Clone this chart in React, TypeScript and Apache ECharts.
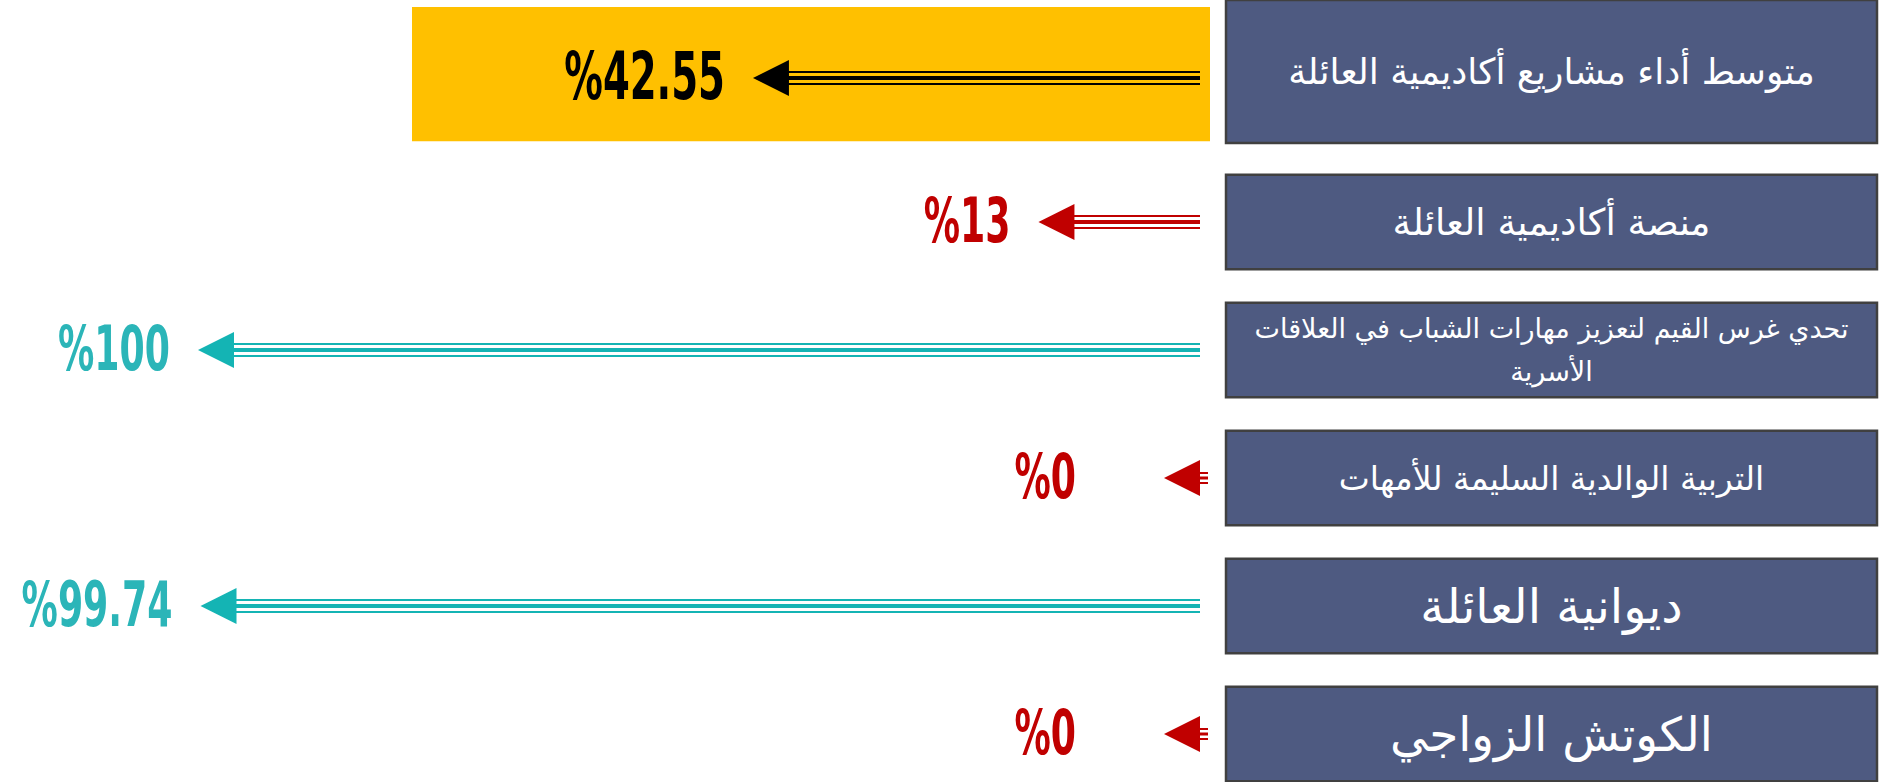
import React, { useEffect, useRef } from 'react';
import * as echarts from 'echarts';

// ---- data ----
const categories = [
  'متوسط أداء مشاريع أكاديمية العائلة',
  'منصة أكاديمية العائلة',
  'تحدي غرس القيم لتعزيز مهارات الشباب في العلاقات\nالأسرية',
  'التربية الوالدية السليمة للأمهات',
  'ديوانية العائلة',
  'الكوتش الزواجي',
];
const values = [42.55, 13, 100, 0, 99.74, 0];
const averageIndex = 0;
const axisMin = 0;
const axisMax = 100;

// ---- style ----
const BOX_FONT_SIZES = [36, 37, 27, 33, 48, 47];
const COLOR_AVG = '#000000';
const COLOR_LOW = '#C00000';
const COLOR_HIGH = '#14B4B4';
const LABEL_HIGH = '#2BB5B8';
const BOX_FILL = '#4E5A81';
const BOX_STROKE = '#404040';
const ARABIC_FONT = '"DejaVu Sans", "Noto Sans", sans-serif';
const PCT_FONT = '"Liberation Sans Narrow", "DejaVu Sans Condensed", "Liberation Sans", sans-serif';

export default function App() {
  const ref = useRef<HTMLDivElement>(null);
  useEffect(() => {
    if (!ref.current) return;
    const chart = echarts.init(ref.current, undefined, { renderer: 'svg' });
    const avg = values[averageIndex];
    const data = values.map((v, i) => [v, i]);

    const renderItem = (params: any, api: any) => {
      const v = api.value(0) as number;
      const idx = api.value(1) as number;
      const tip = api.coord([v, idx]);
      const zero = api.coord([axisMin, idx]);
      const band = Math.abs(api.coord([axisMin, 1])[1] - api.coord([axisMin, 0])[1]);
      const isAvg = idx === averageIndex;
      const rowC = tip[1];
      const cy = rowC + (isAvg ? -16 : 0);
      const headLen = 36;
      const headHalf = 18;
      const tipX = tip[0];
      const baseX = tipX + headLen;
      const endX = zero[0] + headLen;
      const color = isAvg ? COLOR_AVG : v >= avg ? COLOR_HIGH : COLOR_LOW;
      const labelColor = isAvg ? COLOR_AVG : v >= avg ? LABEL_HIGH : COLOR_LOW;
      const children: any[] = [];

      // right-hand box
      const boxLeft = 1226;
      const boxWidth = 651;
      const half = band * 0.37;
      const boxTop = isAvg ? rowC - band * 0.734 : rowC - half;
      const boxBottom = isAvg ? rowC + band * 0.383 : rowC + half;
      if (isAvg) {
        children.push({
          type: 'rect',
          shape: { x: 412, y: rowC - band * 0.68, width: endX + 10 - 412, height: band * 1.05 },
          style: { fill: '#FFC000' },
        });
      }
      children.push({
        type: 'rect',
        shape: { x: boxLeft, y: boxTop, width: boxWidth, height: boxBottom - boxTop },
        style: { fill: BOX_FILL, stroke: BOX_STROKE, lineWidth: 2.5 },
      });
      children.push({
        type: 'text',
        x: boxLeft + boxWidth / 2,
        y: (boxTop + boxBottom) / 2,
        style: {
          text: categories[idx],
          fill: '#FFFFFF',
          fontSize: BOX_FONT_SIZES[idx],
          fontFamily: ARABIC_FONT,
          align: 'center',
          verticalAlign: 'middle',
          lineHeight: 43,
        },
      });

      // shaft (three parallel lines)
      if (endX > baseX) {
        children.push({ type: 'line', shape: { x1: baseX - 1, y1: cy - 6, x2: endX, y2: cy - 6 }, style: { stroke: color, lineWidth: 2 } });
        children.push({ type: 'line', shape: { x1: baseX - 1, y1: cy, x2: endX, y2: cy }, style: { stroke: color, lineWidth: 4 } });
        children.push({ type: 'line', shape: { x1: baseX - 1, y1: cy + 6, x2: endX, y2: cy + 6 }, style: { stroke: color, lineWidth: 2 } });
      } else {
        children.push({ type: 'line', shape: { x1: baseX - 1, y1: cy - 5, x2: baseX + 8, y2: cy - 5 }, style: { stroke: color, lineWidth: 2 } });
        children.push({ type: 'line', shape: { x1: baseX - 1, y1: cy, x2: baseX + 8, y2: cy }, style: { stroke: color, lineWidth: 3 } });
        children.push({ type: 'line', shape: { x1: baseX - 1, y1: cy + 5, x2: baseX + 8, y2: cy + 5 }, style: { stroke: color, lineWidth: 2 } });
      }
      // head
      children.push({
        type: 'polygon',
        shape: { points: [[tipX, cy], [baseX, cy - headHalf], [baseX, cy + headHalf]] },
        style: { fill: color },
      });
      // value label
      const labelX = Math.min(tipX - 28, zero[0] - 88);
      children.push({
        type: 'text',
        x: labelX,
        y: cy - 2,
        scaleX: 0.65,
        style: {
          text: '%' + String(v),
          fill: labelColor,
          fontSize: isAvg ? 66 : 62,
          fontWeight: 'bold',
          fontFamily: PCT_FONT,
          align: 'right',
          verticalAlign: 'middle',
        },
      });
      return { type: 'group', children };
    };

    chart.setOption({
      animation: false,
      backgroundColor: '#FFFFFF',
      grid: { left: 198, width: 966, top: 94, height: 640 },
      xAxis: { type: 'value', min: axisMin, max: axisMax, inverse: true, show: false },
      yAxis: { type: 'category', data: categories, inverse: true, boundaryGap: false, show: false },
      series: [
        {
          type: 'custom',
          clip: false,
          encode: { x: 0, y: 1 },
          data,
          renderItem,
        },
      ],
    });
    return () => chart.dispose();
  }, []);
  return <div ref={ref} style={{ position: 'fixed', left: 0, top: 0, width: 1895, height: 782 }} />;
}
